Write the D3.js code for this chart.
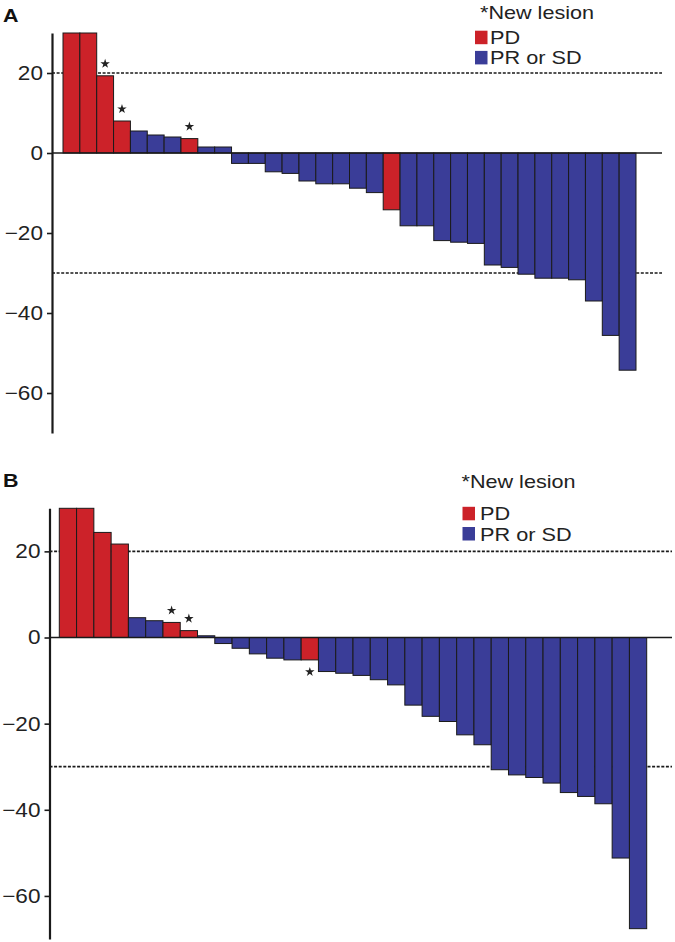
<!DOCTYPE html>
<html>
<head>
<meta charset="utf-8">
<script src="https://cdn.jsdelivr.net/npm/d3@7/dist/d3.min.js"></script>
<style>
  html, body { margin: 0; padding: 0; background: #fff; }
  svg { display: block; font-family: "Liberation Sans", Arial, Helvetica, sans-serif; }
</style>
</head>
<body>
<svg id="chart" width="675" height="942"></svg>
<script>
// ---------- DATA ----------
const patientsA = ["A1","A2","A3","A4","A5","A6","A7","A8","A9","A10","A11","A12","A13","A14","A15","A16","A17",
  "A18","A19","A20","A21","A22","A23","A24","A25","A26","A27","A28","A29","A30","A31","A32","A33","A34"];
const valuesA = [30, 30, 19.3, 8, 5.5, 4.5, 4, 3.6, 1.5, 1.5, -2.6, -2.6, -4.7, -5.1, -7, -7.7, -7.7,
  -8.8, -9.9, -14.2, -18.2, -18.2, -21.9, -22.3, -22.6, -28, -28.6, -30.3, -31.3, -31.3, -31.7, -37, -45.6, -54.3];
const responseA = ["PD","PD","PD","PD","PRSD","PRSD","PRSD","PD","PRSD","PRSD","PRSD","PRSD","PRSD","PRSD","PRSD","PRSD","PRSD",
  "PRSD","PRSD","PD","PRSD","PRSD","PRSD","PRSD","PRSD","PRSD","PRSD","PRSD","PRSD","PRSD","PRSD","PRSD","PRSD","PRSD"];
const newLesionA = ["A3","A4","A8"];

const patientsB = ["B1","B2","B3","B4","B5","B6","B7","B8","B9","B10","B11","B12","B13","B14","B15","B16","B17",
  "B18","B19","B20","B21","B22","B23","B24","B25","B26","B27","B28","B29","B30","B31","B32","B33","B34"];
const valuesB = [30, 30, 24.4, 21.7, 4.6, 3.9, 3.5, 1.6, 0.4, -1.4, -2.5, -3.8, -4.8, -5.2, -5.2, -7.9, -8.3,
  -8.8, -9.8, -11, -15.7, -18.3, -19.5, -22.6, -24.9, -30.7, -31.9, -32.5, -33.8, -36, -36.9, -38.6, -51.2, -67.6];
const responseB = ["PD","PD","PD","PD","PRSD","PRSD","PD","PD","PRSD","PRSD","PRSD","PRSD","PRSD","PRSD","PD","PRSD","PRSD",
  "PRSD","PRSD","PRSD","PRSD","PRSD","PRSD","PRSD","PRSD","PRSD","PRSD","PRSD","PRSD","PRSD","PRSD","PRSD","PRSD","PRSD"];
const newLesionB = ["B7","B8","B15"];

const yTicks = [-60, -40, -20, 0, 20];
const thresholds = [20, -30];
const legendTitle = "*New lesion";
const legendKeys = ["PD", "PRSD"];
const legendLabels = {PD: "PD", PRSD: "PR or SD"};
const colors = {PD: "#cc2229", PRSD: "#3a3d98"};

// ---------- DRAW ----------
const svg = d3.select("#chart");

function stretch(sx) {
  return function (sel) {
    sel.each(function () {
      const t = d3.select(this);
      const x = +t.attr("x") || 0, y = +t.attr("y") || 0;
      t.attr("x", 0).attr("y", 0).attr("transform", `translate(${x},${y}) scale(${sx},1)`);
    });
  };
}

function panel(opts) {
  const {label, labelY, patients, values, response, newLesion, xRange, yRange, axisX, lineEnd, legend} = opts;
  const g = svg.append("g");
  const data = patients.map((p, i) => ({p, v: values[i], r: response[i], star: newLesion.includes(p)}));

  const x = d3.scaleBand().domain(patients).range(xRange).paddingInner(0).paddingOuter(0);
  const y = d3.scaleLinear().domain([-70, 30]).range(yRange);

  // panel label
  g.append("text").attr("x", 3).attr("y", labelY)
    .attr("font-size", 19).attr("font-weight", "bold").attr("fill", "#111").text(label)
    .call(stretch(1.13));

  // threshold dotted lines
  g.selectAll("line.thr").data(thresholds).enter().append("line")
    .attr("x1", axisX).attr("x2", lineEnd)
    .attr("y1", d => y(d)).attr("y2", d => y(d))
    .attr("stroke", "#1a1a1a").attr("stroke-width", 1.7).attr("stroke-dasharray", "3,1.6");

  // bars
  g.selectAll("rect.bar").data(data).enter().append("rect")
    .attr("x", d => x(d.p))
    .attr("width", x.bandwidth())
    .attr("y", d => y(Math.max(0, d.v)))
    .attr("height", d => Math.abs(y(d.v) - y(0)))
    .attr("fill", d => colors[d.r])
    .attr("stroke", "#1a1a1a").attr("stroke-width", 1);

  // zero line
  g.append("line").attr("x1", axisX).attr("x2", lineEnd)
    .attr("y1", y(0)).attr("y2", y(0))
    .attr("stroke", "#1a1a1a").attr("stroke-width", 1.7);

  // stars for new lesions
  const star = d3.symbol().type(d3.symbolStar).size(28);
  g.selectAll("path.star").data(data.filter(d => d.star)).enter().append("path")
    .attr("d", star)
    .attr("fill", "#222")
    .attr("transform", d => `translate(${x(d.p) + x.bandwidth() / 2},${d.v >= 0 ? y(d.v) - 12 : y(d.v) + 12})`);

  // y axis
  const axis = d3.axisLeft(y).tickValues(yTicks).tickSize(5).tickSizeOuter(0).tickPadding(4)
    .tickFormat(d => d < 0 ? "\u2212" + Math.abs(d) : d);
  const ag = g.append("g").attr("transform", `translate(${axisX},0)`).call(axis);
  ag.select(".domain").attr("stroke", "#1a1a1a").attr("stroke-width", 2.2);
  ag.selectAll(".tick line").attr("stroke", "#1a1a1a").attr("stroke-width", 1.6);
  ag.selectAll(".tick text").attr("font-size", 20).attr("fill", "#222")
    .attr("font-family", "'Liberation Sans', Arial, sans-serif")
    .call(stretch(1.13));

  // legend
  g.append("text").attr("x", legend.titleX).attr("y", legend.titleY)
    .attr("font-size", 18).attr("fill", "#222").text(legendTitle).call(stretch(1.2));
  legendKeys.forEach((k, i) => {
    const by = legend.keyY + i * legend.keyStep;
    g.append("rect").attr("x", legend.sqX).attr("y", by - 13.5)
      .attr("width", 12.5).attr("height", 13.5).attr("fill", colors[k]);
    g.append("text").attr("x", legend.textX).attr("y", by)
      .attr("font-size", 17.8).attr("fill", "#222").text(legendLabels[k]).call(stretch(1.22));
  });
}

panel({
  label: "A", labelY: 21.5,
  patients: patientsA, values: valuesA, response: responseA, newLesion: newLesionA,
  xRange: [63, 636], yRange: [433, 33], axisX: 52, lineEnd: 662,
  legend: {titleX: 480, titleY: 19, sqX: 475, textX: 490, keyY: 44.2, keyStep: 20.2}
});

panel({
  label: "B", labelY: 486.5,
  patients: patientsB, values: valuesB, response: responseB, newLesion: newLesionB,
  xRange: [59.3, 646.7], yRange: [939, 508.3], axisX: 49.5, lineEnd: 672,
  legend: {titleX: 461.5, titleY: 488, sqX: 462.5, textX: 480, keyY: 520.3, keyStep: 20.2}
});
</script>
</body>
</html>
